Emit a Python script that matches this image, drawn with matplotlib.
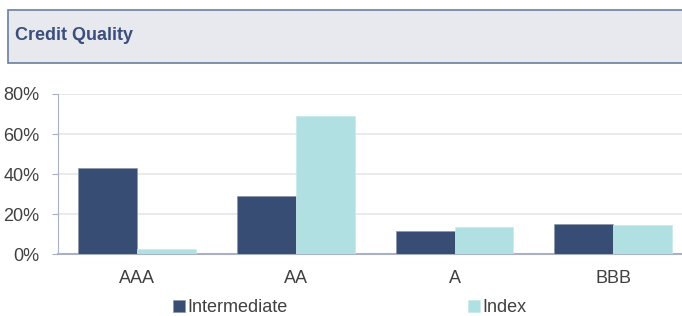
import matplotlib.pyplot as plt
import matplotlib.patches as patches
import numpy as np

plt.rcParams['font.family'] = ['Liberation Sans', 'DejaVu Sans']

# Data
categories = ['AAA', 'AA', 'A', 'BBB']
intermediate = [42.9, 29.2, 11.8, 15.3]
index = [2.6, 69.0, 13.6, 14.5]
yticks = [0, 20, 40, 60, 80]

dark = '#384d73'
light = '#b0e0e2'
text_color = '#404040'

fig = plt.figure(figsize=(6.82, 3.16), dpi=100)

# Header box
hdr = patches.Rectangle((8 / 682, (316 - 63) / 316), 1.0, 53 / 316,
                        transform=fig.transFigure, facecolor='#e8e9ee',
                        edgecolor='#6b7f9e', linewidth=1.2, clip_on=False)
fig.patches.append(hdr)
fig.text(15 / 682, (316 - 36) / 316, 'Credit Quality', fontsize=13,
         fontweight='bold', color='#3b4f7c', va='center', ha='left')

left = 57.7 / 682
bottom = (316 - 254.3) / 316
height = (254.3 - 94) / 316
width = 635 / 682
ax = fig.add_axes([left, bottom, width, height])

x = np.arange(len(categories))
bw = 0.371
ax.bar(x - bw / 2, intermediate, bw, color=dark, edgecolor='#8a96ab',
       linewidth=0.5, label='Intermediate', zorder=3)
ax.bar(x + bw / 2, index, bw, color=light, edgecolor='#c5e9ea',
       linewidth=0.5, label='Index', zorder=3)

ax.set_xlim(-0.5, 3.5)
ax.set_ylim(0, 80)
ax.set_yticks(yticks)
ax.set_yticklabels([f'{v}%' for v in yticks])
ax.set_xticks(x)
ax.set_xticklabels(categories)
ax.yaxis.grid(True, color='#e6e6e9', linewidth=1.2, zorder=0)
ax.set_axisbelow(True)

for s in ['top', 'right']:
    ax.spines[s].set_visible(False)
ax.spines['left'].set_color('#a9b1c2')
ax.spines['bottom'].set_color('#a9b1c2')
ax.spines['bottom'].set_linewidth(1.5)
ax.tick_params(axis='y', length=4, color='#a9b1c2', labelsize=13,
               labelcolor=text_color, pad=9)
ax.tick_params(axis='x', length=0, labelsize=13, labelcolor=text_color, pad=11)

fig.legend(loc='center', bbox_to_anchor=(350 / 682, (316 - 308) / 316),
           ncol=2, frameon=False, fontsize=13, handlelength=0.65,
           handleheight=0.65, handletextpad=0.15, columnspacing=10,
           labelcolor=text_color)

fig.savefig('out.png', dpi=100)
